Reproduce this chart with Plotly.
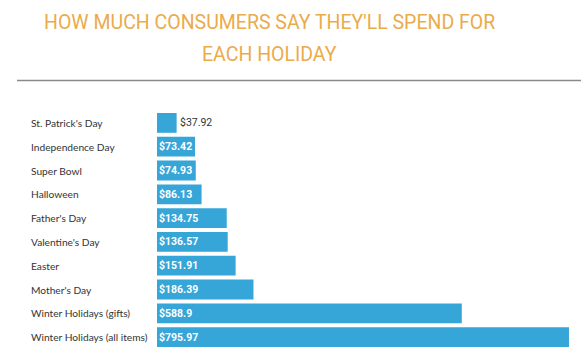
import plotly.graph_objects as go

categories = ["St. Patrick's Day", "Independence Day", "Super Bowl", "Halloween",
              "Father's Day", "Valentine's Day", "Easter", "Mother's Day",
              "Winter Holidays (gifts)", "Winter Holidays (all items)"]
values = [37.92, 73.42, 74.93, 86.13, 134.75, 136.57, 151.91, 186.39, 588.9, 795.97]
value_labels = ["$37.92", "$73.42", "$74.93", "$86.13", "$134.75", "$136.57",
                "$151.91", "$186.39", "$588.9", "$795.97"]
title_lines = ["HOW MUCH CONSUMERS SAY THEY'LL SPEND FOR", "EACH HOLIDAY"]

BAR = "#36A5D8"
TITLE_FONT = "Roboto, sans-serif"
VALUE_FONT = "Roboto, sans-serif"
LABEL_FONT = "Lato, Open Sans, sans-serif"

# plot area in pixels
L, R, T, B = 157, 0, 111, 11
PW, PH = 581 - L - R, 360 - T - B

def px_x(px):
    return (px - L) / PW

def px_y(py):
    return (360 - B - py) / PH

fig = go.Figure(go.Bar(
    x=values, y=categories, orientation="h",
    marker=dict(color=BAR, line=dict(width=0)),
    hoverinfo="skip",
))

annotations = []
for i, (c, v, t) in enumerate(zip(categories, values, value_labels)):
    annotations.append(dict(
        x=px_x(29), xref="paper", y=c, yref="y", text=c, showarrow=False,
        xanchor="left", yanchor="middle",
        font=dict(family=LABEL_FONT, size=10.2, color="#333333")))
    if i == 0:
        annotations.append(dict(
            x=v, xref="x", y=c, yref="y", text=t, showarrow=False,
            xanchor="left", yanchor="middle", xshift=1,
            font=dict(family=VALUE_FONT, size=10.5, color="#333333")))
    else:
        annotations.append(dict(
            x=0, xref="x", y=c, yref="y", text="<b>" + t + "</b>", showarrow=False,
            xanchor="left", yanchor="middle", xshift=0,
            font=dict(family=VALUE_FONT, size=10.5, color="white")))

for line, ypx in zip(title_lines, [22, 55]):
    annotations.append(dict(
        x=px_x(269), xref="paper", y=px_y(ypx), yref="paper",
        text=line, showarrow=False, xanchor="center", yanchor="middle",
        font=dict(family=TITLE_FONT, size=19.5, color="#EBAB4B")))

fig.update_layout(
    width=581, height=360,
    margin=dict(l=L, r=R, t=T, b=B),
    paper_bgcolor="white", plot_bgcolor="white",
    showlegend=False, bargap=0.17,
    xaxis=dict(range=[0, 819.2], visible=False, fixedrange=True),
    yaxis=dict(autorange="reversed", visible=False, fixedrange=True,
               categoryorder="array", categoryarray=categories),
    annotations=annotations,
    shapes=[dict(type="line", xref="paper", yref="paper",
                 x0=px_x(17), x1=1.0,
                 y0=px_y(80.5), y1=px_y(80.5),
                 line=dict(color="#8A8A8A", width=1.5))],
)

fig.write_html("out.html", config={"displayModeBar": False},
               post_script="document.body.style.margin='0';document.body.style.padding='0';")
